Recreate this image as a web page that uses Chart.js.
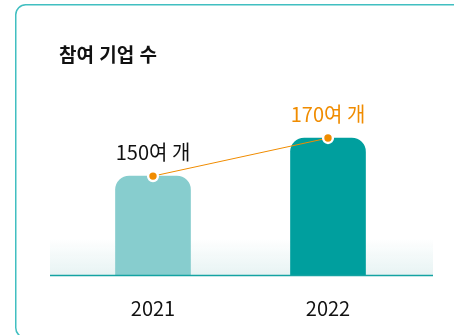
<!DOCTYPE html>
<html lang="ko">
<head>
<meta charset="utf-8">
<script src="https://cdn.jsdelivr.net/npm/chart.js@4"></script>
<style>
  html, body { margin: 0; padding: 0; background: #ffffff; overflow: hidden; }
  #wrap { position: relative; width: 454px; height: 335px; overflow: hidden; }
  #title {
    position: absolute; left: 59px; top: 41px;
    font-family: "Noto Sans CJK KR", "Noto Sans", sans-serif;
    font-weight: 700; font-size: 19px; line-height: 26px; color: #111111;
  }
  canvas { position: absolute; left: 0; top: 0; }
</style>
</head>
<body>
<div id="wrap">
  <canvas id="c" width="454" height="335"></canvas>
  <div id="title">참여 기업 수</div>
</div>
<script>
// Participating companies per year
const years = ['2021', '2022'];
const companies = [150, 170];
const valueLabels = ['150여 개', '170여 개'];
const barColors = ['#87cdce', '#009f9e'];
const labelColors = ['#111111', '#f08c00'];

const FONT = '"Noto Sans CJK KR", "Noto Sans", sans-serif';
const ORANGE = '#f08c00';

// rounded card outline, open to the right
const cardPlugin = {
  id: 'card',
  beforeDraw(chart) {
    const { ctx } = chart;
    ctx.save();
    ctx.strokeStyle = '#41bfc1';
    ctx.lineWidth = 1.5;
    ctx.beginPath();
    ctx.roundRect(15.75, 4.75, 600, 333, 10);
    ctx.stroke();
    ctx.restore();
  }
};

// soft band and baseline under the bars
const floorPlugin = {
  id: 'floor',
  beforeDatasetsDraw(chart) {
    const { ctx, chartArea } = chart;
    const left = chartArea.left - 15.5, right = chartArea.right + 17.5;
    const top = chartArea.bottom - 37;
    const g = ctx.createLinearGradient(0, top, 0, chartArea.bottom);
    g.addColorStop(0, 'rgba(232,244,244,0)');
    g.addColorStop(1, '#e7f3f3');
    ctx.save();
    ctx.fillStyle = g;
    ctx.fillRect(left, top, right - left, chartArea.bottom - top);
    ctx.restore();
  },
  afterDatasetsDraw(chart) {
    const { ctx, chartArea } = chart;
    const left = chartArea.left - 15.5, right = chartArea.right + 17.5;
    ctx.save();
    ctx.strokeStyle = '#14a3a2';
    ctx.lineWidth = 1.5;
    ctx.beginPath();
    ctx.moveTo(left, chartArea.bottom + 0.5);
    ctx.lineTo(right, chartArea.bottom + 0.5);
    ctx.stroke();
    ctx.restore();
  }
};

// value captions above each bar
const captionPlugin = {
  id: 'captions',
  afterDraw(chart) {
    const { ctx } = chart;
    const meta = chart.getDatasetMeta(0);
    ctx.save();
    ctx.font = '20px ' + FONT;
    ctx.textAlign = 'center';
    ctx.textBaseline = 'middle';
    meta.data.forEach((bar, i) => {
      ctx.fillStyle = labelColors[i];
      ctx.fillText(valueLabels[i], bar.x, bar.y - 23.5);
    });
    ctx.restore();
  }
};

new Chart(document.getElementById('c'), {
  data: {
    labels: years,
    datasets: [
      {
        type: 'line',
        data: companies,
        order: 0,
        borderColor: ORANGE,
        borderWidth: 1,
        pointRadius: 4.9,
        pointBackgroundColor: ORANGE,
        pointBorderColor: '#ffffff',
        pointBorderWidth: 2.4,
        tension: 0
      },
      {
        type: 'bar',
        data: companies,
        order: 1,
        backgroundColor: barColors,
        barThickness: 75,
        borderRadius: { topLeft: 14, topRight: 14, bottomLeft: 0, bottomRight: 0 },
        borderSkipped: false
      }
    ]
  },
  options: {
    responsive: false,
    animation: false,
    events: [],
    layout: { padding: { left: 65.5, right: 38.5, top: 81, bottom: -6 } },
    plugins: { legend: { display: false }, tooltip: { enabled: false } },
    scales: {
      x: {
        grid: { display: false, drawTicks: false },
        border: { display: false },
        ticks: { color: '#111111', font: { family: FONT, size: 20 }, padding: 21 }
      },
      y: { display: false, min: 98, max: 200 }
    }
  },
  plugins: [cardPlugin, floorPlugin, captionPlugin]
});
</script>
</body>
</html>
